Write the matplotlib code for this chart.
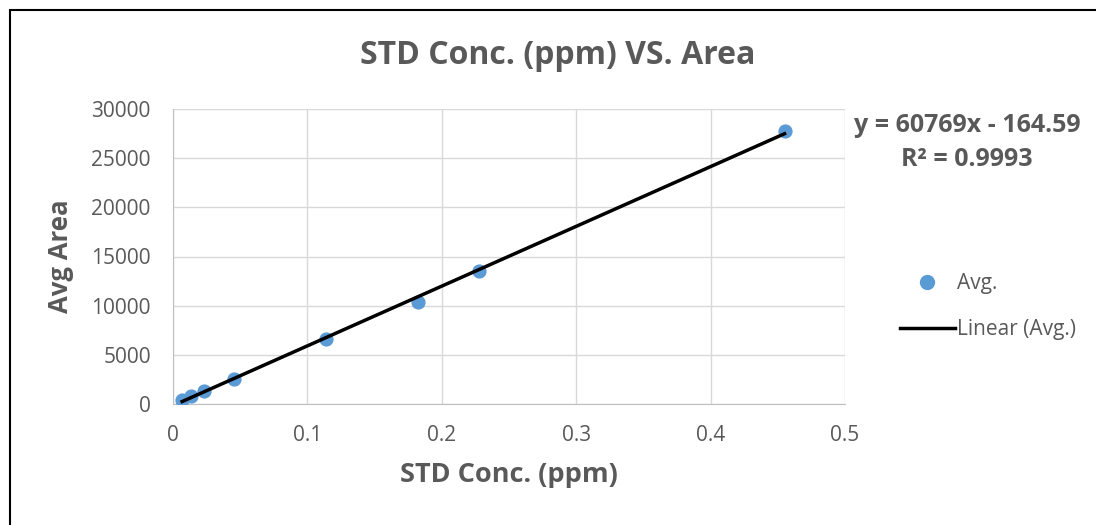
import numpy as np
import matplotlib.pyplot as plt
from matplotlib.lines import Line2D
from matplotlib.patches import Rectangle

conc = [0.0068, 0.0137, 0.0228, 0.0455, 0.1137, 0.182, 0.2275, 0.455]
area = [430, 820, 1300, 2560, 6650, 10380, 13520, 27750]
slope = 60769
intercept = -164.59
r2 = 0.9993

plt.rcParams['font.family'] = ['Open Sans', 'DejaVu Sans']
grey = '#595959'

fig = plt.figure(figsize=(10.96, 5.25), dpi=100)
fig.patches.append(Rectangle((10/1096, -0.2), 1.2, 1.2 - 10/525, transform=fig.transFigure,
                             fill=False, edgecolor='black', linewidth=1.5))

ax = fig.add_axes([173/1096, 1 - 404/525, 672/1096, 295/525])
ax.scatter(conc, area, s=85, color='#5B9BD5', zorder=3, label='Avg.')
xfit = np.array([min(conc), max(conc)])
ax.plot(xfit, slope * xfit + intercept, color='black', linewidth=2.5, zorder=4,
        label='Linear (Avg.)')

ax.set_xlim(0, 0.5)
ax.set_ylim(0, 30000)
ax.set_xticks(np.arange(0, 0.51, 0.1))
ax.set_xticklabels(['0', '0.1', '0.2', '0.3', '0.4', '0.5'])
ax.set_yticks(np.arange(0, 30001, 5000))
ax.grid(True, color='#D9D9D9', linewidth=1)
ax.set_axisbelow(True)
for s in ['top', 'right']:
    ax.spines[s].set_visible(False)
for s in ['left', 'bottom']:
    ax.spines[s].set_color('#BFBFBF')
ax.tick_params(length=0, labelsize=15, labelcolor=grey)
ax.tick_params(axis='y', pad=16)
ax.tick_params(axis='x', pad=15)

ax.set_xlabel('STD Conc. (ppm)', fontsize=19.5, fontweight='bold', color=grey, labelpad=12)
ax.set_ylabel('Avg Area', fontsize=18.5, fontweight='bold', color=grey, labelpad=12)
fig.text(558/1096, 1 - 56/525, 'STD Conc. (ppm) VS. Area', ha='center', va='center',
         fontsize=23, fontweight='bold', color=grey)

fig.text(967/1096, 1 - 126/525, f'y = {slope}x - {abs(intercept)}',
         ha='center', va='center', fontsize=18, fontweight='bold', color=grey)
fig.text(967/1096, 1 - 160/525, f'R² = {r2}',
         ha='center', va='center', fontsize=18, fontweight='bold', color=grey)

handles = [Line2D([], [], marker='o', linestyle='none', markersize=10, color='#5B9BD5'),
           Line2D([], [], color='black', linewidth=2.5)]
fig.legend(handles, ['Avg.', 'Linear (Avg.)'], loc='center left',
           bbox_to_anchor=(885/1096, 1 - 307/525), frameon=False, fontsize=15,
           labelcolor=grey, handlelength=2.65, handletextpad=0.1, labelspacing=1.2,
           borderpad=0.2)

fig.savefig('out.png', dpi=100)
